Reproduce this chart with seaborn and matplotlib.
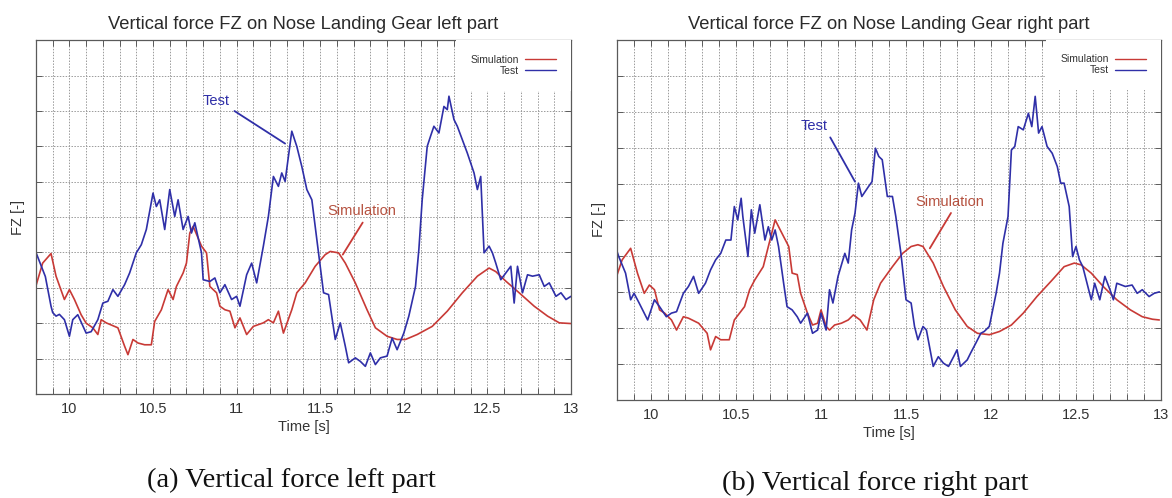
import matplotlib
matplotlib.use("Agg")
import matplotlib.pyplot as plt
from matplotlib.ticker import MultipleLocator, FuncFormatter, NullFormatter
import pandas as pd
import seaborn as sns

sns.set_style("ticks")
plt.rcParams["font.family"] = ["Liberation Sans", "DejaVu Sans"]

# ---------------------------------------------------------------- left gear
left_test_t = [9.80, 9.856, 9.89, 9.90, 9.92, 9.94, 9.97, 10.00, 10.02, 10.05,
               10.10, 10.13, 10.17, 10.20, 10.23, 10.26, 10.29, 10.33, 10.36,
               10.40, 10.43, 10.46, 10.50, 10.52, 10.54, 10.57, 10.60, 10.63,
               10.65, 10.68, 10.71, 10.73, 10.75, 10.79, 10.80, 10.84, 10.87,
               10.90, 10.93, 10.97, 11.00, 11.02, 11.06, 11.09, 11.12, 11.16,
               11.19, 11.22, 11.25, 11.27, 11.29, 11.33, 11.36, 11.39, 11.42,
               11.45, 11.48, 11.52, 11.55, 11.59, 11.62, 11.65, 11.67, 11.71,
               11.74, 11.77, 11.80, 11.83, 11.86, 11.90, 11.93, 11.96, 12.00,
               12.03, 12.07, 12.09, 12.11, 12.14, 12.16, 12.18, 12.21, 12.24,
               12.26, 12.27, 12.30, 12.32, 12.35, 12.38, 12.42, 12.44, 12.46,
               12.48, 12.51, 12.53, 12.55, 12.58, 12.61, 12.64, 12.66, 12.68,
               12.71, 12.74, 12.77, 12.81, 12.84, 12.87, 12.91, 12.94, 12.97,
               13.00]
left_test_fz = [4.00, 3.32, 2.48, 2.30, 2.20, 2.25, 2.10, 1.63, 2.10, 2.24,
                1.72, 1.76, 2.10, 2.57, 2.62, 2.95, 2.76, 3.09, 3.42,
                3.99, 4.22, 4.65, 5.68, 5.30, 5.49, 4.65, 5.78, 5.02,
                5.49, 4.65, 5.02, 4.55, 4.84, 3.99, 3.23, 3.18, 3.28,
                2.86, 3.09, 2.67, 2.76, 2.48, 3.37, 3.70, 3.14, 4.18,
                5.02, 6.15, 5.87, 6.25, 6.01, 7.43, 7.00, 6.43, 5.78,
                5.49, 4.36, 2.86, 2.81, 1.54, 2.01, 1.35, 0.88, 1.02,
                0.92, 0.78, 1.16, 0.83, 1.02, 1.07, 1.58, 1.25, 1.72,
                2.20, 3.04, 4.08, 5.49, 7.00, 7.29, 7.57, 7.38, 8.13,
                8.04, 8.42, 7.76, 7.57, 7.19, 6.81, 6.25, 5.78, 6.15,
                3.99, 4.18, 3.99, 3.70, 3.23, 3.42, 3.61, 2.57, 3.61,
                2.86, 3.37, 3.33, 3.37, 3.04, 3.14, 2.76, 2.86, 2.67,
                2.76]

left_sim_t = [9.80, 9.84, 9.89, 9.92, 9.97, 10.00, 10.03, 10.07, 10.10, 10.14,
              10.17, 10.19, 10.22, 10.29, 10.33, 10.35, 10.38, 10.41, 10.45,
              10.49, 10.51, 10.55, 10.59, 10.62, 10.64, 10.68, 10.70, 10.72,
              10.74, 10.79, 10.82, 10.84, 10.88, 10.90, 10.93, 10.96, 10.99,
              11.02, 11.06, 11.10, 11.16, 11.19, 11.22, 11.25, 11.28, 11.33,
              11.36, 11.41, 11.47, 11.53, 11.56, 11.61, 11.65, 11.71, 11.78,
              11.83, 11.90, 11.96, 12.01, 12.08, 12.17, 12.26, 12.35, 12.44,
              12.51, 12.55, 12.61, 12.69, 12.78, 12.86, 12.93, 13.00]
left_sim_fz = [3.06, 3.70, 3.97, 3.33, 2.67, 2.95, 2.67, 2.24, 2.00, 1.87,
               1.68, 2.10, 2.01, 1.87, 1.35, 1.11, 1.54, 1.44, 1.39,
               1.39, 2.05, 2.38, 2.95, 2.67, 3.04, 3.42, 3.70, 4.55,
               4.74, 4.18, 3.99, 3.04, 2.86, 2.48, 2.38, 2.34, 1.87,
               2.15, 1.68, 1.91, 2.01, 2.10, 2.01, 2.34, 1.72, 2.38,
               2.86, 3.14, 3.61, 3.94, 4.03, 3.99, 3.70, 3.14, 2.38,
               1.87, 1.63, 1.54, 1.54, 1.68, 1.91, 2.34, 2.86, 3.33,
               3.56, 3.46, 3.19, 2.86, 2.48, 2.20, 2.01, 1.99]

# --------------------------------------------------------------- right gear
right_test_t = [9.79, 9.81, 9.85, 9.88, 9.90, 9.93, 9.98, 10.02, 10.05, 10.09,
                10.12, 10.15, 10.19, 10.22, 10.25, 10.28, 10.32, 10.35, 10.38,
                10.41, 10.44, 10.47, 10.49, 10.51, 10.53, 10.54, 10.57, 10.59,
                10.61, 10.64, 10.67, 10.69, 10.71, 10.73, 10.75, 10.78, 10.80,
                10.83, 10.86, 10.88, 10.92, 10.95, 10.98, 11.00, 11.03, 11.05,
                11.07, 11.10, 11.14, 11.16, 11.18, 11.20, 11.22, 11.24, 11.28,
                11.30, 11.32, 11.34, 11.36, 11.39, 11.42, 11.44, 11.47, 11.50,
                11.53, 11.55, 11.57, 11.60, 11.62, 11.66, 11.69, 11.72, 11.75,
                11.78, 11.80, 11.82, 11.86, 11.88, 11.91, 11.94, 11.96, 11.99,
                12.01, 12.03, 12.05, 12.07, 12.10, 12.12, 12.14, 12.16, 12.19,
                12.22, 12.24, 12.26, 12.28, 12.30, 12.33, 12.36, 12.39, 12.41,
                12.43, 12.46, 12.48, 12.50, 12.52, 12.54, 12.58, 12.59, 12.61,
                12.64, 12.67, 12.70, 12.72, 12.74, 12.79, 12.83, 12.86, 12.89,
                12.93, 12.96, 12.99]
right_test_fz = [4.26, 3.98, 3.52, 2.78, 2.96, 2.69, 2.22, 2.78, 2.59, 2.31,
                 2.41, 2.45, 2.96, 3.15, 3.43, 2.96, 3.24, 3.61, 3.89,
                 4.07, 4.44, 4.44, 5.37, 5.00, 5.60, 5.09, 3.98, 5.28,
                 4.63, 5.42, 4.44, 4.81, 4.44, 4.72, 4.26, 3.24, 2.59,
                 2.50, 2.31, 2.13, 2.41, 1.85, 1.94, 2.41, 1.94, 3.06,
                 2.69, 3.43, 4.07, 3.80, 4.72, 5.19, 6.02, 5.65, 5.93,
                 6.06, 6.99, 6.76, 6.67, 5.65, 5.65, 5.09, 4.07, 2.78,
                 2.69, 2.04, 1.67, 2.04, 1.94, 0.93, 1.20, 1.02, 0.93,
                 1.20, 1.39, 0.93, 1.11, 1.30, 1.57, 1.85, 1.90, 2.04,
                 2.50, 2.96, 3.52, 4.35, 5.09, 6.94, 7.04, 7.59, 7.50,
                 7.96, 7.59, 8.43, 7.41, 7.59, 7.04, 6.85, 6.48, 6.02,
                 6.02, 5.37, 3.98, 4.26, 3.89, 3.70, 2.96, 2.78, 3.24,
                 2.78, 3.43, 3.06, 2.78, 3.24, 3.15, 3.19, 2.96, 3.06,
                 2.87, 2.96, 3.00]

right_sim_t = [9.79, 9.83, 9.88, 9.92, 9.96, 9.99, 10.02, 10.05, 10.08, 10.12,
               10.15, 10.19, 10.22, 10.28, 10.33, 10.35, 10.38, 10.41, 10.46,
               10.49, 10.55, 10.58, 10.61, 10.66, 10.69, 10.73, 10.76, 10.81,
               10.83, 10.86, 10.88, 10.92, 10.95, 10.98, 11.00, 11.03, 11.05,
               11.08, 11.12, 11.16, 11.19, 11.23, 11.27, 11.31, 11.35, 11.42,
               11.48, 11.53, 11.57, 11.60, 11.66, 11.72, 11.79, 11.86, 11.92,
               11.99, 12.05, 12.12, 12.19, 12.27, 12.36, 12.43, 12.49, 12.53,
               12.59, 12.66, 12.74, 12.82, 12.89, 12.95, 12.99]
right_sim_fz = [3.33, 3.89, 4.21, 3.52, 2.96, 3.19, 3.06, 2.50, 2.41, 2.22,
                1.94, 2.31, 2.27, 2.13, 1.85, 1.39, 1.76, 1.67, 1.67,
                2.22, 2.59, 3.06, 3.33, 3.70, 4.26, 5.00, 4.72, 4.26,
                3.52, 3.48, 2.96, 2.41, 2.08, 2.13, 2.50, 2.04, 1.94,
                2.08, 2.13, 2.22, 2.36, 2.22, 1.94, 2.78, 3.24, 3.70,
                4.07, 4.26, 4.31, 4.26, 3.80, 3.15, 2.50, 2.04, 1.85,
                1.81, 1.90, 2.08, 2.41, 2.87, 3.33, 3.70, 3.80, 3.75,
                3.52, 3.15, 2.78, 2.50, 2.31, 2.24, 2.22]

SIM_COLOR = "#c83a36"
TEST_COLOR = "#2f2fa8"
SIM_TEXT = "#b5513f"
GRID_COLOR = "#9a9a9a"
FRAME_COLOR = "#5a5a5a"

fig = plt.figure(figsize=(11.72, 4.98), dpi=100)
ax_l = fig.add_axes([0.0307, 0.209, 0.4565, 0.710])
ax_r = fig.add_axes([0.5265, 0.197, 0.4641, 0.723])


def draw_panel(ax, title, test_t, test_fz, sim_t, sim_fz,
               test_text, test_tip, sim_text, sim_tip):
    sim_df = pd.DataFrame({"t": sim_t, "fz": sim_fz})
    test_df = pd.DataFrame({"t": test_t, "fz": test_fz})
    sns.lineplot(data=sim_df, x="t", y="fz", ax=ax, color=SIM_COLOR,
                 lw=1.2, estimator=None, sort=False, label="Simulation")
    sns.lineplot(data=test_df, x="t", y="fz", ax=ax, color=TEST_COLOR,
                 lw=1.2, estimator=None, sort=False, label="Test")

    ax.set_xlim(9.8, 13.0)
    ax.set_ylim(0, 10)
    ax.xaxis.set_major_locator(MultipleLocator(0.5))
    ax.xaxis.set_minor_locator(MultipleLocator(0.1))
    ax.xaxis.set_major_formatter(FuncFormatter(lambda v, p: f"{v:g}"))
    ax.yaxis.set_major_locator(MultipleLocator(1))
    ax.yaxis.set_major_formatter(NullFormatter())
    ax.grid(which="both", axis="x", color=GRID_COLOR, lw=0.7,
            ls=(0, (1.5, 1.5)))
    ax.grid(which="major", axis="y", color=GRID_COLOR, lw=0.7,
            ls=(0, (1.5, 1.5)))
    ax.tick_params(which="both", direction="in", top=True, right=True,
                   length=4, width=0.7, color=FRAME_COLOR,
                   labelsize=10.5, labelcolor="#333333", pad=6)
    for s in ax.spines.values():
        s.set_color(FRAME_COLOR)
        s.set_linewidth(0.9)

    ax.set_title(title, fontsize=13.2, color="#2a2a2a", pad=8)
    ax.set_xlabel("Time [s]", fontsize=10.5, color="#333333", labelpad=3)
    ax.set_ylabel("FZ [-]", fontsize=10.5, color="#333333", labelpad=2)

    ax.annotate("Test", xy=test_tip, xytext=test_text, color=TEST_COLOR,
                fontsize=10.5, ha="center", va="center",
                arrowprops=dict(arrowstyle="-", color=TEST_COLOR, lw=1.3,
                                relpos=(1.0, 0.0), shrinkA=1, shrinkB=0))
    ax.annotate("Simulation", xy=sim_tip, xytext=sim_text, color=SIM_TEXT,
                fontsize=10.5, ha="center", va="center",
                arrowprops=dict(arrowstyle="-", color=SIM_COLOR, lw=1.3,
                                relpos=(0.55, 0.0), shrinkA=1, shrinkB=0))

    leg = ax.legend(loc="upper right", fontsize=7.5, markerfirst=False,
                    frameon=True, fancybox=False, framealpha=1,
                    edgecolor="white", handlelength=3.0, handletextpad=0.6,
                    labelspacing=0.1, borderpad=1.4, borderaxespad=0.0)
    leg.get_frame().set_linewidth(0)
    for txt in leg.get_texts():
        txt.set_color("#333333")
    for line in leg.get_lines():
        line.set_linewidth(1.0)


draw_panel(ax_l, "Vertical force FZ on Nose Landing Gear left part",
           left_test_t, left_test_fz, left_sim_t, left_sim_fz,
           test_text=(10.88, 8.28), test_tip=(11.29, 7.08),
           sim_text=(11.75, 5.17), sim_tip=(11.635, 3.94))
draw_panel(ax_r, "Vertical force FZ on Nose Landing Gear right part",
           right_test_t, right_test_fz, right_sim_t, right_sim_fz,
           test_text=(10.96, 7.61), test_tip=(11.2, 6.06),
           sim_text=(11.76, 5.51), sim_tip=(11.64, 4.21))

caption_font = dict(family=["Liberation Serif", "DejaVu Serif"], fontsize=20.5,
                    color="#111111", ha="center", va="center")
fig.text(0.249, 0.036, "(a) Vertical force left part", **caption_font)
fig.text(0.747, 0.030, "(b) Vertical force right part", **caption_font)

fig.savefig("out.png", dpi=100, facecolor="white")
